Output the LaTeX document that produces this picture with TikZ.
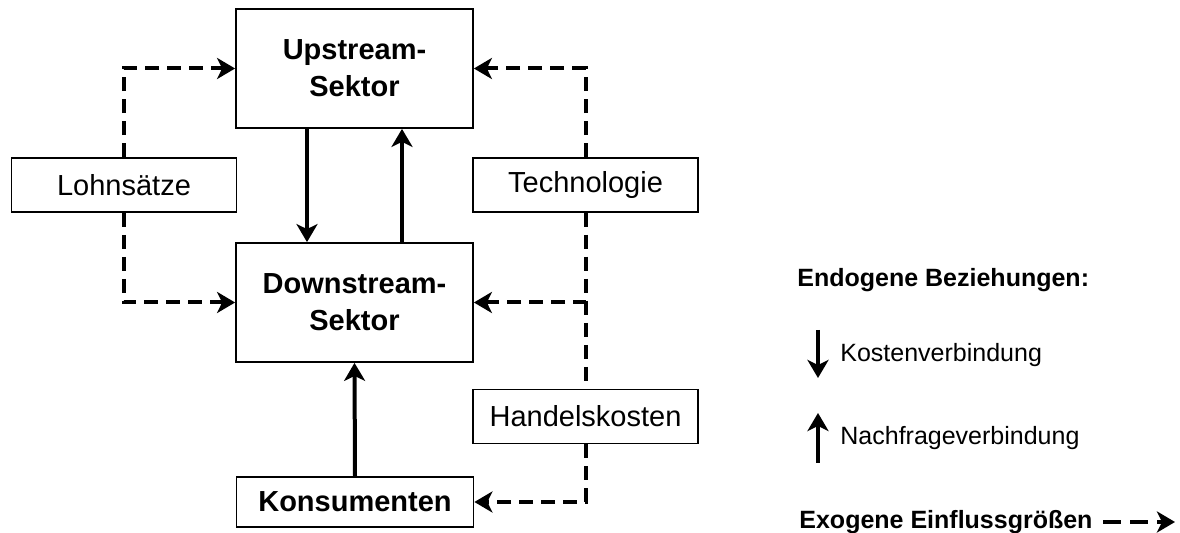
\documentclass[tikz,border=0pt]{standalone}
\usepackage{fontspec}
\setmainfont{Liberation Sans}
\usepackage{tikz}
\usetikzlibrary{arrows.meta, positioning, calc}
\tikzset{
	sektor/.style ={rectangle, draw=black, line width=0.9pt, minimum width=118.5pt, minimum height=59.5pt, align=center, font=\fontsize{14.5}{18.5}\selectfont\bfseries},
	faktor/.style ={rectangle, draw=black, line width=0.9pt, minimum width=112.5pt, minimum height=27pt, align=center, font=\fontsize{14.5}{18.5}\selectfont},
	legtext/.style={anchor=west, inner sep=0pt, font=\fontsize{12.5}{15}\selectfont},
	% connector styles
	endo/.style   ={-{Stealth[length=9pt, width=10.5pt, inset=2.5pt]}, line width=2pt},
	exo/.style    ={-{Stealth[length=9pt, width=10.5pt, inset=2.5pt]}, line width=2pt, dash pattern=on 7pt off 4pt},
	exoline/.style={line width=2pt, dash pattern=on 7pt off 4pt},
}

\begin{document}
\begin{tikzpicture}[x=0.5pt, y=-0.5pt]
	\useasboundingbox (0,0) rectangle (1180,533);
	% sectors
	\node[sektor] (up) at (354.5,68.5) {Upstream-\\Sektor};
	\node[sektor] (down) at (354.5,302.5) {Downstream-\\Sektor};
	\node[sektor, minimum height=25pt] (kons) at (355,502) {Konsumenten};
	% exogenous factors
	\node[faktor] (lohn) at (124,185) {Lohns\"atze};
	\node[faktor] (tech) at (585.5,185) {Technologie};
	\node[faktor] (handel) at (585.5,416.5) {Handelskosten};
	% endogenous links
	\draw[endo] ([xshift=-23.75pt]up.south) -- ([xshift=-23.75pt]down.north);
	\draw[endo] ([xshift=23.75pt]down.north) -- ([xshift=23.75pt]up.south);
	\draw[endo] (kons.north) -- (down.south);
	% exogenous links
	\draw[exo] (lohn.north) |- (up.west);
	\draw[exo] (lohn.south) |- (down.west);
	\draw[exo] (tech.north) |- (up.east);
	\draw[exo] (tech.south) |- (down.east);
	\draw[exoline] (tech.south) -- (handel.north);
	\draw[exo] (handel.south) |- (kons.east);
	% legend
	\node[legtext, font=\fontsize{12.5}{15}\selectfont\bfseries] (endog) at (797,280) {Endogene Beziehungen:};
	\node[legtext] (kosten) at (840,355) {Kostenverbindung};
	\node[legtext] (nachfr) at (840,438) {Nachfrageverbindung};
	\node[legtext, font=\fontsize{12.5}{15}\selectfont\bfseries] (exog) at (799,522) {Exogene Einflussgr\"o\ss en};
	\coordinate (kt) at (818,330);
	\coordinate (kb) at (818,378);
	\coordinate (nb) at (818,463);
	\coordinate (nt) at (818,413);
	\coordinate (el) at (1103,522);
	\coordinate (er) at (1175,522);
	\draw[endo] (kt) -- (kb);
	\draw[endo] (nb) -- (nt);
	\draw[exo, dash pattern=on 9pt off 4.5pt] (el) -- (er);
\end{tikzpicture}
\end{document}
